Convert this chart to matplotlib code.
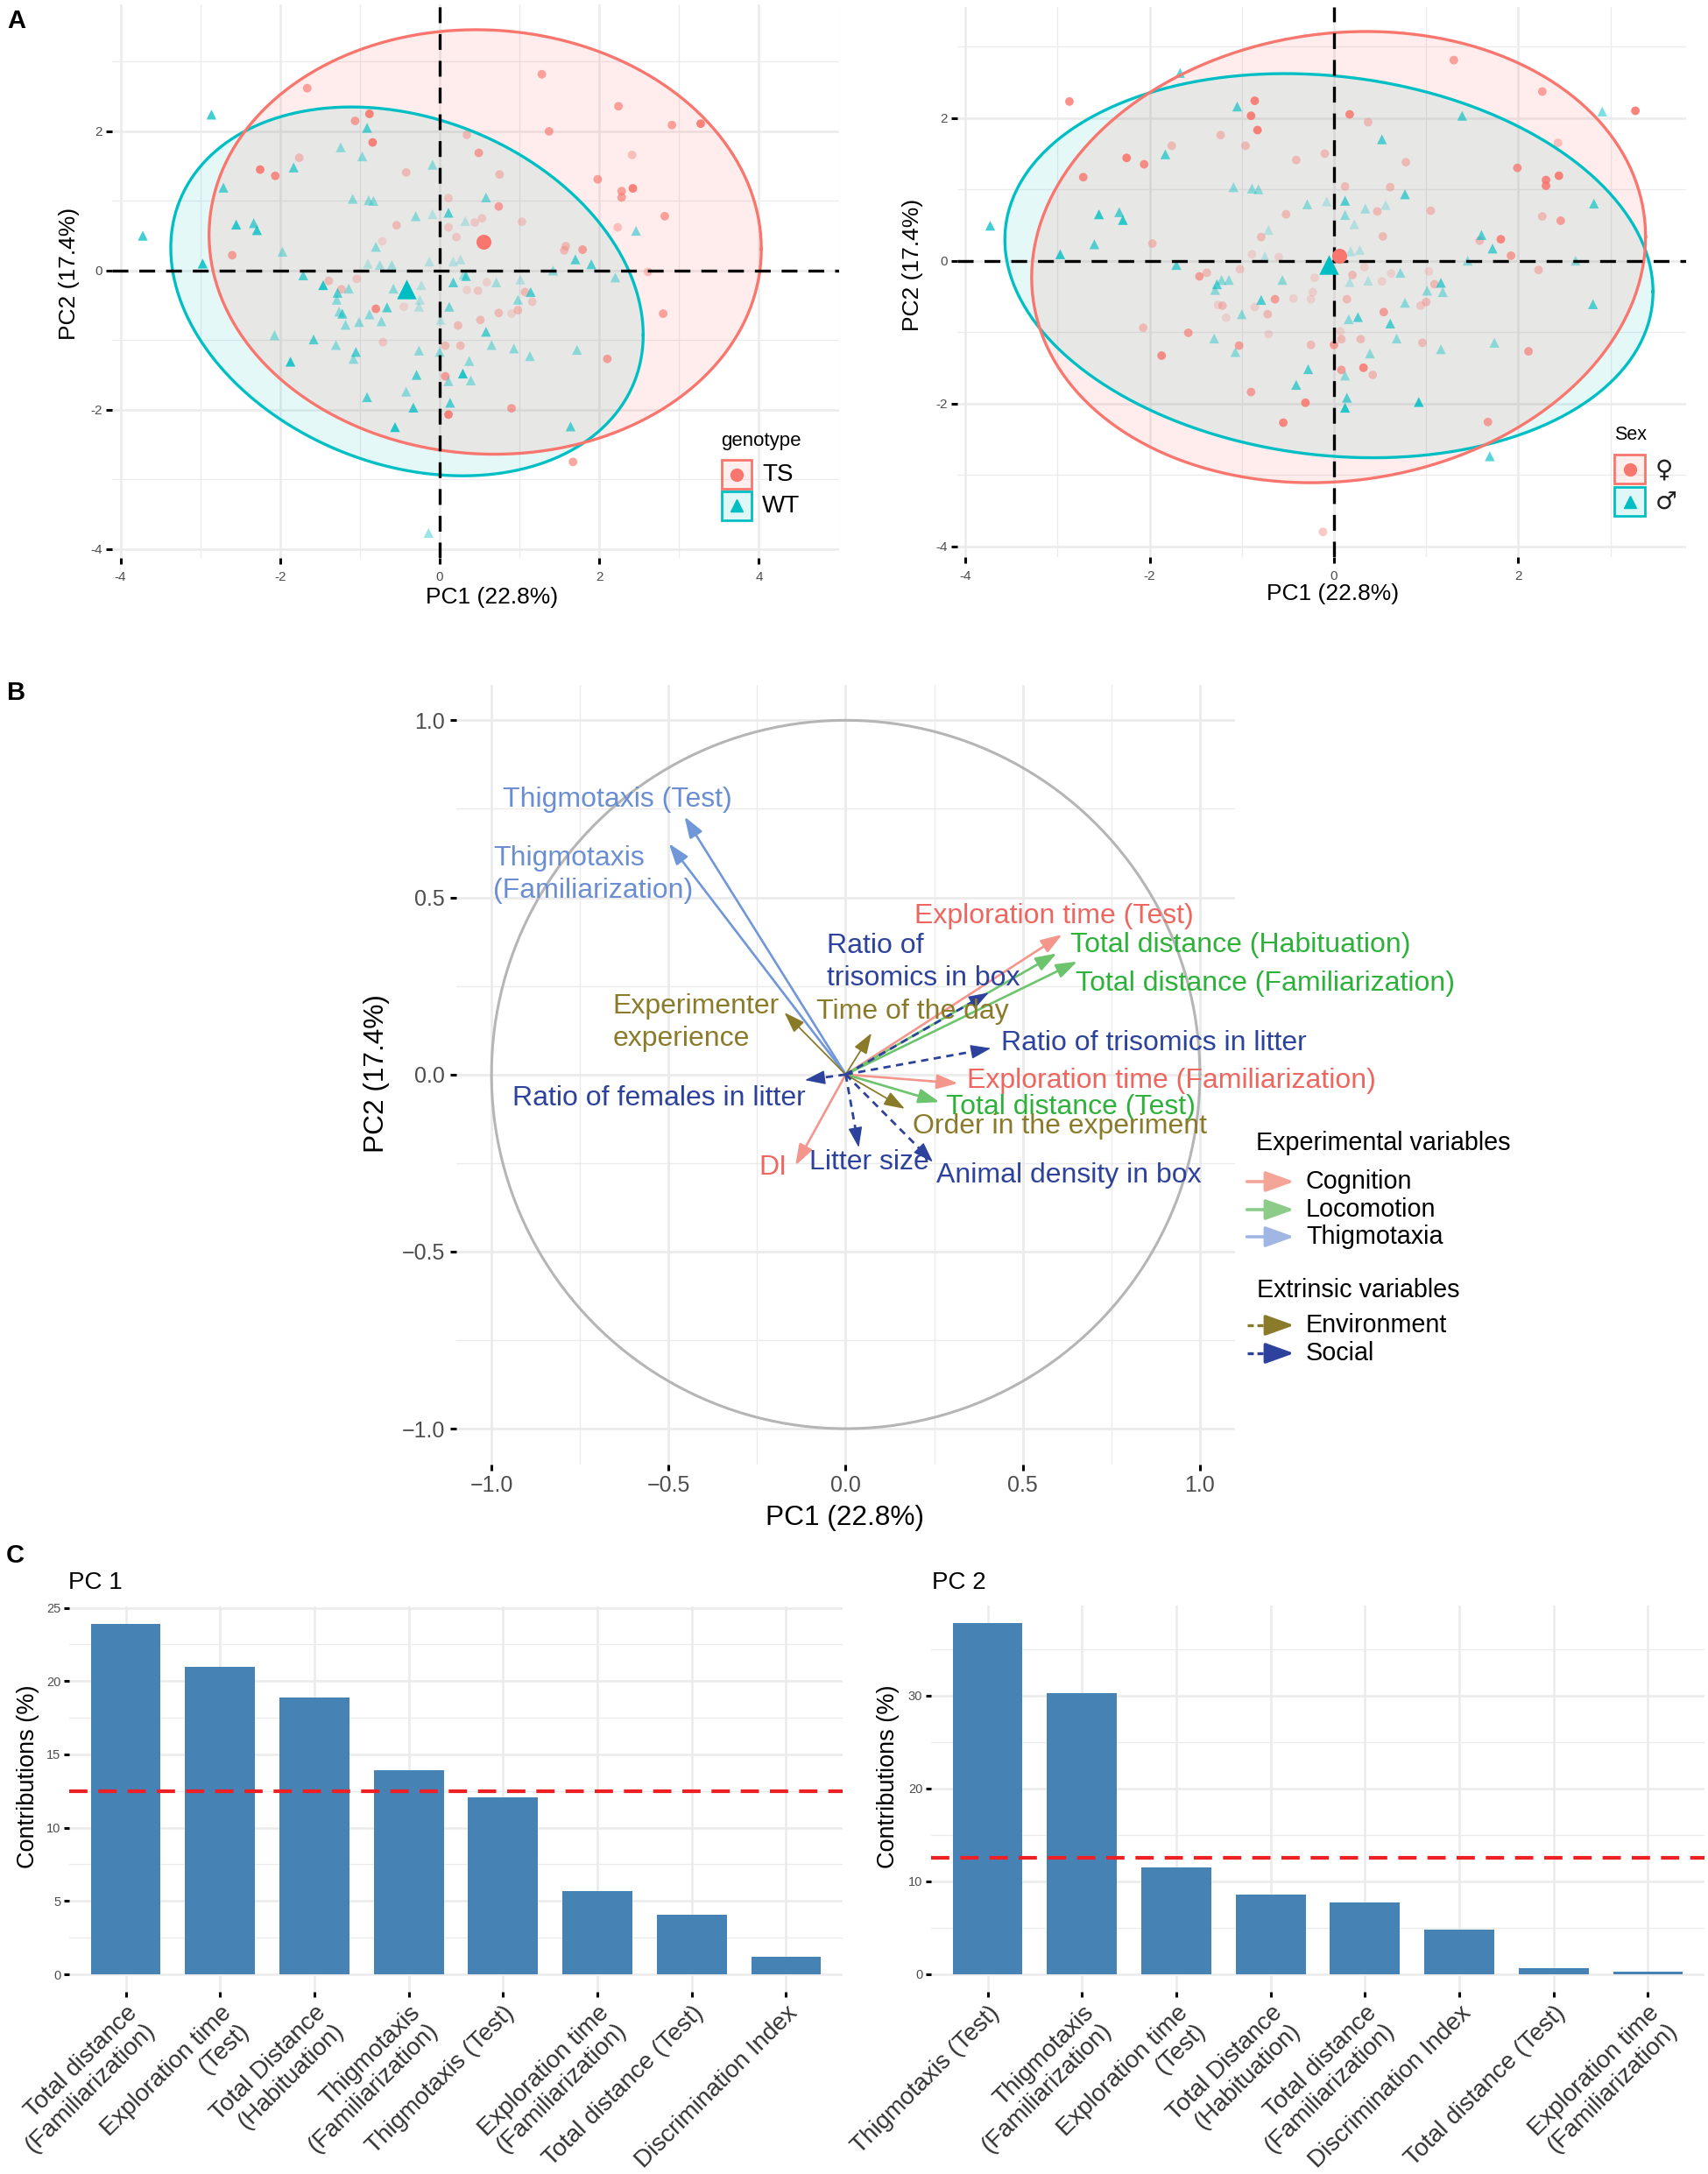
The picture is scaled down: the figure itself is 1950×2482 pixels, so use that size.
import numpy as np
import matplotlib
matplotlib.use("Agg")
import matplotlib.pyplot as plt
from matplotlib.colors import to_rgba
from matplotlib.patches import Rectangle, FancyArrowPatch
from matplotlib.lines import Line2D

plt.rcParams['font.family'] = ['Liberation Sans', 'DejaVu Sans']
plt.rcParams['lines.scale_dashes'] = False

# ---------------- panel A : individuals, coloured by genotype ----------------
geno_pc1 = [
    -1.66, -2.86, -0.88, -1.06, -0.91, -0.84, -1.24, -0.97, -1.76, -1.83,
    -2.25, -2.06, -0.42, -0.09, -2.71, -1.09, -0.89, -0.83, 0.11, -0.30,
    -0.09, 0.11, -0.54, 0.11, -2.55, -2.33, -2.29, -3.72, -0.72, -0.80,
    -2.60, -1.97, -2.97, -0.90, -0.75, -0.60, -0.13, -1.71, -1.46, -1.39,
    -1.23, -1.28, -1.14, -1.29, -1.04, -0.58, -0.23, -0.80, -0.66, -0.88,
    -0.45, -0.25, -0.26, -1.26, -1.22, -1.18, -1.01, -0.73, 0.01, -2.07,
    -1.58, -1.30, -0.71, -1.05, -1.08, -0.26, 0.00, 0.07, -1.87, -0.29,
    0.07, 0.11, -0.42, -0.91, -0.33, 0.13, 0.11, -0.56, -0.14, 0.21,
    0.33, 0.12,
    1.28, 2.24, 1.37, 2.91, 3.27, 0.34, 0.49, 2.41, 0.75, 1.98,
    2.28, 2.28, 2.42, 0.58, 0.74, 2.82, 1.03, 0.44, 0.53, 0.32,
    2.23, 2.46, 1.58, 1.56, 1.79, 1.70, 1.90, 1.42, 2.61, 2.20,
    0.26, 0.17, 0.30, 0.17, 0.59, 0.71, 1.01, 0.34, 0.48, 1.07,
    1.14, 0.98, 1.16, 0.74, 0.90, 0.98, 0.51, 2.80, 0.23, 0.58,
    0.26, 0.65, 0.93, 1.13, 1.72, 2.10, 0.37, 0.29, 0.39, 0.90,
    1.64, 1.67]
geno_pc2 = [
    2.62, 2.24, 2.25, 2.15, 2.05, 1.84, 1.77, 1.64, 1.62, 1.48,
    1.45, 1.36, 1.41, 1.52, 1.19, 1.03, 1.01, 1.00, 1.04, 0.78,
    0.81, 0.83, 0.65, 0.62, 0.66, 0.68, 0.58, 0.50, 0.42, 0.34,
    0.22, 0.27, 0.10, 0.10, 0.08, 0.08, 0.13, -0.07, -0.21, -0.15,
    -0.27, -0.32, -0.26, -0.42, -0.12, -0.26, -0.21, -0.55, -0.53, -0.63,
    -0.52, -0.42, -0.52, -0.59, -0.62, -0.78, -0.74, -0.73, -0.71, -0.93,
    -0.99, -1.07, -1.03, -1.17, -1.27, -1.15, -1.17, -1.08, -1.31, -1.50,
    -1.52, -1.59, -1.74, -1.82, -1.97, -1.90, -2.07, -2.25, -3.77, 0.48,
    -0.08, -0.52,
    2.82, 2.36, 2.00, 2.09, 2.11, 1.95, 1.69, 1.66, 1.38, 1.31,
    1.14, 1.05, 1.18, 1.05, 0.92, 0.78, 0.70, 0.69, 0.75, 0.71,
    0.62, 0.57, 0.35, 0.29, 0.30, 0.16, 0.09, 0.00, -0.02, -0.10,
    0.16, 0.13, -0.06, -0.17, -0.17, -0.17, -0.13, -0.28, -0.29, -0.31,
    -0.31, -0.42, -0.45, -0.61, -0.62, -0.57, -0.71, -0.62, -0.79, -0.88,
    -1.08, -1.07, -1.12, -1.23, -1.14, -1.27, -1.30, -1.48, -1.58, -1.98,
    -2.24, -2.75]
# T = TS, W = WT
geno_group = list(
    "TWTTWTWWTW" "TTTWWWWWTW" "WWTTWWWWTW" "TWWWWWWWWT" "TWWWTWWTWW"
    "TWWWWWWWWW" "WWTWWWWTWW" "TWWWWWTWWT" "WW"
    "TTTTTTTTTT" "TTTWTTTTTW" "TWTTTWWWTW" "WWWWTWWTTT" "WWTTTTTTTW"
    "TWWWWTWWWT" "WT")
geno_cos2 = [
    .65, .75, .9, .65, .65, .9, .4, .4, .4, .65,
    .9, .8, .4, .4, .65, .4, .4, .4, .3, .4,
    .22, .65, .4, .3, .8, .65, .8, .75, .22, .4,
    .65, .4, .85, .22, .3, .3, .22, .65, .85, .4,
    .4, .65, .4, .4, .3, .4, .22, .8, .65, .4,
    .22, .22, .22, .4, .65, .4, .4, .4, .22, .4,
    .65, .4, .3, .65, .4, .4, .4, .4, .85, .65,
    .65, .4, .4, .65, .75, .65, .9, .85, .4, .3,
    .65, .5,
    .65, .65, .65, .65, .9, .4, .65, .4, .4, .65,
    .65, .65, .9, .5, .65, .65, .3, .3, .3, .22,
    .4, .5, .4, .4, .65, .65, .65, .4, .4, .4,
    .22, .22, .3, .65, .22, .3, .22, .22, .3, .4,
    .65, .4, .3, .4, .22, .4, .4, .65, .4, .65,
    .4, .4, .4, .4, .4, .65, .4, .85, .4, .65,
    .65, .65]
geno_codes = ['T', 'W']
geno_names = ['TS', 'WT']
geno_mean_pc1 = [0.55, -0.42]
geno_mean_pc2 = [0.41, -0.27]
geno_ell_center = [[0.57, 0.41], [-0.41, -0.30]]
geno_ell_cov = [[[11.97, -0.35], [-0.35, 9.30]],
                [[8.76, -1.85], [-1.85, 7.02]]]

# ---------------- panel A : individuals, coloured by sex ----------------
sex_pc1 = [
    -1.67, -2.87, -0.86, -1.05, -0.90, -0.83, -1.23, -1.76, -0.96, -1.83,
    -2.25, -2.06, -2.72, -0.41, -0.10, -1.09, -0.89, -0.82, -2.55, -2.33,
    -2.29, -3.73, -0.29, -0.52, -0.71, -0.79, -1.97, -2.60, -2.97, -0.89,
    -0.75, -0.60, -1.71, -1.02, -1.46, -1.38, -1.22, -1.27, -1.14, -1.29,
    -0.56, -0.21, -0.23, -0.25, -0.44, -0.64, -0.79, -1.21, -1.26, -0.86,
    -0.72, -1.00, -1.17, -2.07, -1.58, -0.71, -1.30, -1.03, -1.07, -0.25,
    -1.87, -0.28, -0.41, -0.90, -0.31, -0.55, -0.12,
    1.30, 2.26, 2.91, 3.27, 1.39, 0.17, 0.37, 0.52, 0.78, 2.43,
    1.99, 2.30, 2.30, 2.44, 0.12, 0.61, 0.77, 0.12, -0.08, 0.34,
    0.56, 0.47, 0.12, 0.22, 1.05, 2.82, 2.26, 2.46, 0.53, 1.60,
    1.58, 1.81, 1.72, 1.92, 1.45, 2.62, 2.22, 0.28, 0.18, 0.20,
    0.33, 0.62, 0.72, 0.17, 0.37, 0.52, 1.03, 1.09, 1.16, 1.01,
    1.18, 0.14, 0.94, 1.00, 0.77, 0.54, 0.16, 0.26, 0.61, 0.07,
    0.08, 0.29, 0.68, 0.96, 1.16, 1.74, 2.11, 2.81, 0.00, 0.39,
    0.32, 0.08, 0.42, 0.12, 0.14, 0.12, 0.92, 1.67, 1.69]
sex_pc2 = [
    2.63, 2.23, 2.24, 2.16, 2.03, 1.83, 1.76, 1.61, 1.61, 1.49,
    1.44, 1.35, 1.17, 1.41, 1.50, 1.03, 1.01, 1.00, 0.65, 0.68,
    0.57, 0.49, 0.79, 0.65, 0.43, 0.33, 0.24, 0.23, 0.09, 0.09,
    0.06, 0.05, -0.06, -0.12, -0.22, -0.17, -0.27, -0.33, -0.27, -0.41,
    -0.27, -0.24, -0.44, -0.54, -0.53, -0.54, -0.55, -0.63, -0.62, -0.65,
    -0.75, -0.75, -0.80, -0.94, -1.01, -1.03, -1.09, -1.19, -1.28, -1.18,
    -1.33, -1.52, -1.74, -1.84, -1.99, -2.27, -3.80,
    2.81, 2.37, 2.09, 2.10, 2.03, 2.05, 1.94, 1.70, 1.38, 1.65,
    1.30, 1.13, 1.05, 1.19, 1.04, 1.03, 0.93, 0.84, 0.83, 0.73,
    0.78, 0.69, 0.64, 0.51, 0.70, 0.80, 0.62, 0.56, 0.34, 0.36,
    0.28, 0.30, 0.17, 0.07, 0.00, 0.00, -0.13, 0.15, 0.13, -0.20,
    -0.09, -0.18, -0.17, -0.30, -0.28, -0.29, -0.15, -0.33, -0.31, -0.42,
    -0.44, -0.54, -0.63, -0.58, -0.59, -0.72, -0.82, -0.79, -0.88, -0.99,
    -1.10, -1.10, -1.09, -1.15, -1.24, -1.15, -1.27, -0.61, -1.18, -1.30,
    -1.50, -1.53, -1.60, -1.61, -1.92, -2.06, -1.98, -2.26, -2.74]
# F = female, M = male
sex_group = list(
    "MFFMFFFFFM" "FFFFFMMMMM" "MMMFMFFMMF" "MFMFFFMMMM" "MFFFFFMFFF"
    "FMFFFFMFMF" "FMMFFFF"
    "FFMFMFFMFF" "FFFFFFMMMM" "MFMMFMFFFM" "FFMFMMFMMF" "FFMMMFFFMM"
    "MFFFMFMMMF" "FFMFMMFMFM" "FFFMMMMFM")
sex_cos2 = [
    .65, .8, .9, .65, .9, .9, .4, .4, .4, .65,
    .9, .8, .8, .4, .4, .4, .4, .4, .8, .65,
    .8, .75, .4, .4, .22, .4, .4, .65, .8, .22,
    .22, .22, .65, .3, .65, .4, .4, .65, .4, .4,
    .4, .22, .22, .22, .22, .65, .65, .4, .22, .22,
    .4, .4, .22, .4, .65, .22, .4, .65, .4, .4,
    .8, .65, .65, .65, .85, .85, .4,
    .65, .65, .5, .9, .65, .85, .4, .65, .4, .4,
    .75, .85, .85, .9, .4, .4, .65, .65, .22, .3,
    .22, .4, .4, .22, .4, .65, .4, .65, .4, .65,
    .4, .85, .65, .65, .4, .4, .4, .22, .22, .4,
    .22, .22, .4, .22, .22, .22, .22, .4, .65, .4,
    .4, .4, .3, .4, .4, .65, .4, .65, .65, .22,
    .4, .4, .4, .4, .4, .4, .65, .65, .65, .4,
    .85, .65, .4, .4, .65, .85, .85, .65, .65]
sex_codes = ['F', 'M']
sex_names = ['\u2640', '\u2642']
sex_mean_pc1 = [0.06, -0.06]
sex_mean_pc2 = [0.07, -0.05]
sex_ell_center = [[0.05, 0.05], [-0.055, -0.07]]
sex_ell_cov = [[[11.09, 0.95], [0.95, 9.99]],
               [[12.36, -1.28], [-1.28, 7.24]]]

# ---------------- panel B : variables correlation circle ----------------
var_labels = ["Thigmotaxis (Test)", "Thigmotaxis\n(Familiarization)",
              "Exploration time (Test)", "Exploration time (Familiarization)", "DI",
              "Total distance (Habituation)", "Total distance (Familiarization)",
              "Total distance (Test)", "Experimenter\nexperience", "Time of the day",
              "Order in the experiment", "Ratio of\ntrisomics in box",
              "Ratio of trisomics in litter", "Ratio of females in litter",
              "Litter size", "Animal density in box"]
var_pc1 = [-0.455, -0.499, 0.611, 0.317, -0.142, 0.596, 0.654, 0.265,
           -0.173, 0.073, 0.167, 0.404, 0.410, -0.115, 0.037, 0.246]
var_pc2 = [0.728, 0.652, 0.395, -0.025, -0.257, 0.342, 0.319, -0.078,
           0.175, 0.117, -0.097, 0.231, 0.074, -0.016, -0.206, -0.247]
var_type = ['Thigmotaxia', 'Thigmotaxia', 'Cognition', 'Cognition', 'Cognition',
            'Locomotion', 'Locomotion', 'Locomotion', 'Environment', 'Environment',
            'Environment', 'Social', 'Social', 'Social', 'Social', 'Social']
exp_types = ['Cognition', 'Locomotion', 'Thigmotaxia']
ext_types = ['Environment', 'Social']

# label anchor (left edge, vertical centre) for each variable name
lab_x = [-0.968, -0.995, 0.193, 0.343, -0.245, 0.635, 0.648, 0.284,
         -0.657, -0.084, 0.190, -0.052, 0.438, -0.942, -0.103, 0.256]
lab_y = [0.776, 0.564, 0.448, -0.018, -0.262, 0.366, 0.256, -0.093,
         0.146, 0.177, -0.146, 0.317, 0.089, -0.067, -0.249, -0.286]

# ---------------- panel C : contributions ----------------
pc1_vars = ["Total distance\n(Familiarization)", "Exploration time\n(Test)",
            "Total Distance\n(Habituation)", "Thigmotaxis\n(Familiarization)",
            "Thigmotaxis (Test)", "Exploration time\n(Familiarization)",
            "Total distance (Test)", "Discrimination Index"]
pc1_contrib = [23.9, 21.0, 18.9, 13.95, 12.05, 5.67, 4.04, 1.2]
pc2_vars = ["Thigmotaxis (Test)", "Thigmotaxis\n(Familiarization)",
            "Exploration time\n(Test)", "Total Distance\n(Habituation)",
            "Total distance\n(Familiarization)", "Discrimination Index",
            "Total distance (Test)", "Exploration time\n(Familiarization)"]
pc2_contrib = [37.8, 30.3, 11.54, 8.59, 7.69, 4.79, 0.68, 0.30]
expected_contrib = 12.5

# ---------------- figure helpers ----------------
W, H = 1950, 2482
fig = plt.figure(figsize=(W / 100, H / 100), dpi=100)
GRID = '#EBEBEB'
RED, CYAN = '#F8766D', '#00BFC4'


def box(l, t, r, b):
    return [l / W, 1 - b / H, (r - l) / W, (b - t) / H]


def ftext(x, y, s, **kw):
    fig.text(x / W, 1 - y / H, s, **kw)


def frect(x0, y0, x1, y1, **kw):
    fig.add_artist(Rectangle((x0 / W, 1 - y1 / H), (x1 - x0) / W, (y1 - y0) / H,
                             transform=fig.transFigure, **kw))


def fmarker(x, y, marker, color, size):
    fig.add_artist(Line2D([x / W], [1 - y / H], marker=marker, color=color,
                          markersize=size, ls='none', transform=fig.transFigure))


def base_axes(ax, xmaj, xmin, ymaj, ymin, major_lw=1.8, minor_lw=0.9):
    ax.set_xticks(xmaj)
    ax.set_xticks(xmin, minor=True)
    ax.set_yticks(ymaj)
    ax.set_yticks(ymin, minor=True)
    ax.grid(which='major', color=GRID, lw=major_lw)
    ax.grid(which='minor', color=GRID, lw=minor_lw)
    ax.set_axisbelow(True)
    for s in ax.spines.values():
        s.set_visible(False)
    ax.tick_params(which='minor', length=0)


def individuals_panel(ax, pc1, pc2, groups, cos2, codes, centers, covs,
                      mean1, mean2, xlim, ylim, xmaj, ymaj):
    cols = [RED, CYAN]
    fill_alpha = [0.13, 0.10]
    marks = ['o', '^']
    ax.set_xlim(xlim)
    ax.set_ylim(ylim)
    base_axes(ax, xmaj, np.arange(xmaj[0] + 1, xmaj[-1] + 2, 2),
              ymaj, np.arange(ymaj[0] + 1, ymaj[-1] + 2, 2))
    ax.set_xticklabels([f"{t:g}" for t in xmaj])
    ax.set_yticklabels([f"{t:g}" for t in ymaj])
    ax.tick_params(which='major', length=5, width=2.2, color='black',
                   labelsize=11, labelcolor='#4D4D4D', pad=3)
    ax.tick_params(axis='x', pad=6)
    pc1 = np.array(pc1)
    pc2 = np.array(pc2)
    cos2 = np.array(cos2)
    t = np.linspace(0, 2 * np.pi, 361)
    outlines = []
    # cyan ellipse first so that the red one tints the overlap
    for k in (1, 0):
        L = np.linalg.cholesky(np.array(covs[k]))
        ex = centers[k][0] + L[0, 0] * np.cos(t) + L[0, 1] * np.sin(t)
        ey = centers[k][1] + L[1, 0] * np.cos(t) + L[1, 1] * np.sin(t)
        ax.fill(ex, ey, color=cols[k], alpha=fill_alpha[k], lw=0, zorder=1)
        outlines.append((ex, ey, cols[k]))
    for ex, ey, c in outlines:
        ax.plot(ex, ey, color=c, lw=2.4, zorder=3)
    for k in range(2):
        sel = np.array([g == codes[k] for g in groups])
        fc = [to_rgba(cols[k], a) for a in cos2[sel]]
        ax.scatter(pc1[sel], pc2[sel], s=50 if k == 0 else 66, marker=marks[k],
                   c=fc, linewidths=0, zorder=2)
    ax.axhline(0, color='black', lw=2.4, ls=(0, (13, 9)), zorder=4)
    ax.axvline(0, color='black', lw=2.4, ls=(0, (13, 9)), zorder=4)
    for k in range(2):
        ax.scatter([mean1[k]], [mean2[k]], s=150 if k == 0 else 260,
                   marker=marks[k], color=cols[k], linewidths=0, zorder=5)


# ---------------- panel A ----------------
axA1 = fig.add_axes(box(127.5, 5.3, 957.6, 637))
individuals_panel(axA1, geno_pc1, geno_pc2, geno_group, geno_cos2, geno_codes,
                  geno_ell_center, geno_ell_cov, geno_mean_pc1, geno_mean_pc2,
                  (-4.11, 4.43), (-4.13, 3.82), [-4, -2, 0, 2, 4], [-4, -2, 0, 2])
axA2 = fig.add_axes(box(1092.6, 7.5, 1925, 635.8))
individuals_panel(axA2, sex_pc1, sex_pc2, sex_group, sex_cos2, sex_codes,
                  sex_ell_center, sex_ell_cov, sex_mean_pc1, sex_mean_pc2,
                  (-4.09, 3.82), (-4.15, 3.56), [-4, -2, 0, 2], [-4, -2, 0, 2])

ftext(562, 682, 'PC1 (22.8%)', size=19, ha='center', va='center')
ftext(79, 312, 'PC2 (17.4%)', size=19, ha='center', va='center', rotation=90)
ftext(1522, 678, 'PC1 (22.8%)', size=19, ha='center', va='center')
ftext(1042, 302, 'PC2 (17.4%)', size=19, ha='center', va='center', rotation=90)

# legends of panel A (drawn inside the panels)
ftext(823, 504, 'genotype', size=16, va='center')
for k, (yt, col, mk) in enumerate([(525, RED, 'o'), (561, CYAN, '^')]):
    frect(824, yt, 858, yt + 33, facecolor=to_rgba(col, 0.12), edgecolor=col, lw=2)
    fmarker(841, yt + 16.5, mk, col, 10)
    ftext(870, yt + 17, geno_names[k], size=20, va='center')

ftext(1843, 496, 'Sex', size=15.5, va='center')
for k, (yt, col, mk) in enumerate([(519, RED, 'o'), (556, CYAN, '^')]):
    frect(1843, yt, 1878, yt + 33, facecolor=to_rgba(col, 0.12), edgecolor=col, lw=2)
    fmarker(1860.5, yt + 16.5, mk, col, 10)
    ftext(1890, yt + 17, sex_names[k], size=20, va='center',
          family=['DejaVu Sans'], color='#222222')

# ---------------- panel B ----------------
arrow_col = {'Cognition': '#F4968C', 'Locomotion': '#6CC46C', 'Thigmotaxia': '#7097D8',
             'Environment': '#8A7B2A', 'Social': '#2C429C'}
text_col = {'Cognition': '#EE6660', 'Locomotion': '#2DB13A', 'Thigmotaxia': '#6B8ED3',
            'Environment': '#8A7B2A', 'Social': '#2C429C'}
key_col = {'Cognition': '#F5A498', 'Locomotion': '#8DCB88', 'Thigmotaxia': '#A0B6E4',
           'Environment': '#8A7B2A', 'Social': '#2C429C'}

axB = fig.add_axes(box(520.7, 781.9, 1410.3, 1671.5))
axB.set_xlim(-1.1, 1.1)
axB.set_ylim(-1.1, 1.1)
bmaj = [-1.0, -0.5, 0.0, 0.5, 1.0]
base_axes(axB, bmaj, [-0.75, -0.25, 0.25, 0.75], bmaj, [-0.75, -0.25, 0.25, 0.75],
          major_lw=2.0, minor_lw=1.0)
blabels = [f"{t:.1f}".replace('-', '\u2212') for t in bmaj]
axB.set_xticklabels(blabels)
axB.set_yticklabels(blabels)
axB.tick_params(which='major', length=5, width=2.2, color='black', labelsize=18,
                labelcolor='#4D4D4D', pad=4)
circ = np.linspace(0, 2 * np.pi, 400)
axB.plot(np.cos(circ), np.sin(circ), color='#B5B5B5', lw=2.2, zorder=1)

for i in range(len(var_labels)):
    kind = var_type[i]
    col = arrow_col[kind]
    x1, y1 = var_pc1[i], var_pc2[i]
    if kind == 'Social':
        d = np.hypot(x1, y1)
        bx, by = x1 - 0.045 * x1 / d, y1 - 0.045 * y1 / d
        axB.plot([0, bx], [0, by], color=col, lw=2.0, ls=(0, (6, 4.5)),
                 solid_capstyle='butt', dash_capstyle='butt', zorder=3)
        axB.add_patch(FancyArrowPatch((bx, by), (x1, y1),
                                      arrowstyle='-|>,head_length=1.45,head_width=0.5',
                                      mutation_scale=10, color=col, lw=1.0,
                                      shrinkA=0, shrinkB=0, zorder=3))
    else:
        lw = 1.3 if kind == 'Environment' else 1.9
        axB.add_patch(FancyArrowPatch((0, 0), (x1, y1),
                                      arrowstyle='-|>,head_length=1.45,head_width=0.5',
                                      mutation_scale=10, color=col, lw=lw,
                                      shrinkA=0, shrinkB=0, zorder=3))
    axB.text(lab_x[i], lab_y[i], var_labels[i], color=text_col[kind], size=23,
             ha='left', va='center', linespacing=1.32, zorder=4)

ftext(965, 1733, 'PC1 (22.8%)', size=22.8, ha='center', va='center')
ftext(430, 1226, 'PC2 (17.4%)', size=22.8, ha='center', va='center', rotation=90)

# legend of panel B


def key_arrow(y, kind):
    col = key_col[kind]
    x0, x1 = 1423.6, 1477.5
    if kind in ext_types:
        fig.add_artist(Line2D([x0 / W, (x1 - 24) / W], [1 - y / H, 1 - y / H],
                              color=col, lw=2.4, ls=(0, (5, 3)),
                              transform=fig.transFigure))
        start = x1 - 26
    else:
        start = x0
    fig.add_artist(FancyArrowPatch((start / W, 1 - y / H), (x1 / W, 1 - y / H),
                                   arrowstyle='-|>,head_length=1.0,head_width=0.36',
                                   mutation_scale=20, color=col, lw=2.6,
                                   shrinkA=0, shrinkB=0, transform=fig.transFigure))


ftext(1434, 1305, 'Experimental variables', size=20.7, va='center')
for y, kind in zip([1349, 1381, 1412], exp_types):
    key_arrow(y, kind)
    ftext(1491, y, kind, size=20.7, va='center')
ftext(1435, 1473, 'Extrinsic variables', size=20.7, va='center')
for y, kind in zip([1513, 1545], ext_types):
    key_arrow(y, kind)
    ftext(1491, y, kind, size=20.7, va='center')

# ---------------- panel C ----------------


def contrib_panel(ax, names, vals, ymaj, ymin):
    pos = np.arange(1, len(vals) + 1)
    ax.bar(pos, vals, width=0.74, color='#4682B4', zorder=2)
    ax.axhline(expected_contrib, color='#EE2024', lw=3.0, ls=(0, (15, 9)), zorder=3)
    ax.set_xlim(0.4, len(vals) + 0.6)
    top = max(vals) * 1.05
    ax.set_ylim(-0.05 * max(vals), top)
    base_axes(ax, pos, [], ymaj, ymin)
    ax.set_xticklabels(names)
    ax.set_yticklabels([f"{t:g}" for t in ymaj])
    ax.tick_params(axis='y', which='major', length=4, width=2.2, color='black',
                   labelsize=10.5, labelcolor='#4D4D4D', pad=3)
    ax.tick_params(axis='x', which='major', length=4, width=2.2, color='black',
                   labelsize=20, labelcolor='#333333', pad=4)
    for lab in ax.get_xticklabels():
        lab.set_rotation(45)
        lab.set_ha('right')
        lab.set_va('top')
        lab.set_rotation_mode('anchor')
        lab.set_linespacing(1.12)


axC1 = fig.add_axes(box(79, 1834, 962, 2274))
contrib_panel(axC1, pc1_vars, pc1_contrib, [0, 5, 10, 15, 20, 25],
              [2.5, 7.5, 12.5, 17.5, 22.5])
axC2 = fig.add_axes(box(1063, 1833, 1946, 2274))
contrib_panel(axC2, pc2_vars, pc2_contrib, [0, 10, 20, 30], [5, 15, 25, 35])

ftext(78, 1807, 'PC 1', size=20, va='center')
ftext(1064, 1807, 'PC 2', size=20, va='center')
ftext(32, 2028, 'Contributions (%)', size=19.5, ha='center', va='center', rotation=90)
ftext(1014, 2028, 'Contributions (%)', size=19.5, ha='center', va='center', rotation=90)

# panel letters
ftext(19, 24, 'A', size=21, weight='bold', ha='center', va='center')
ftext(19, 791, 'B', size=21, weight='bold', ha='center', va='center')
ftext(17, 1776, 'C', size=21, weight='bold', ha='center', va='center')

fig.savefig('out.png', dpi=100)
